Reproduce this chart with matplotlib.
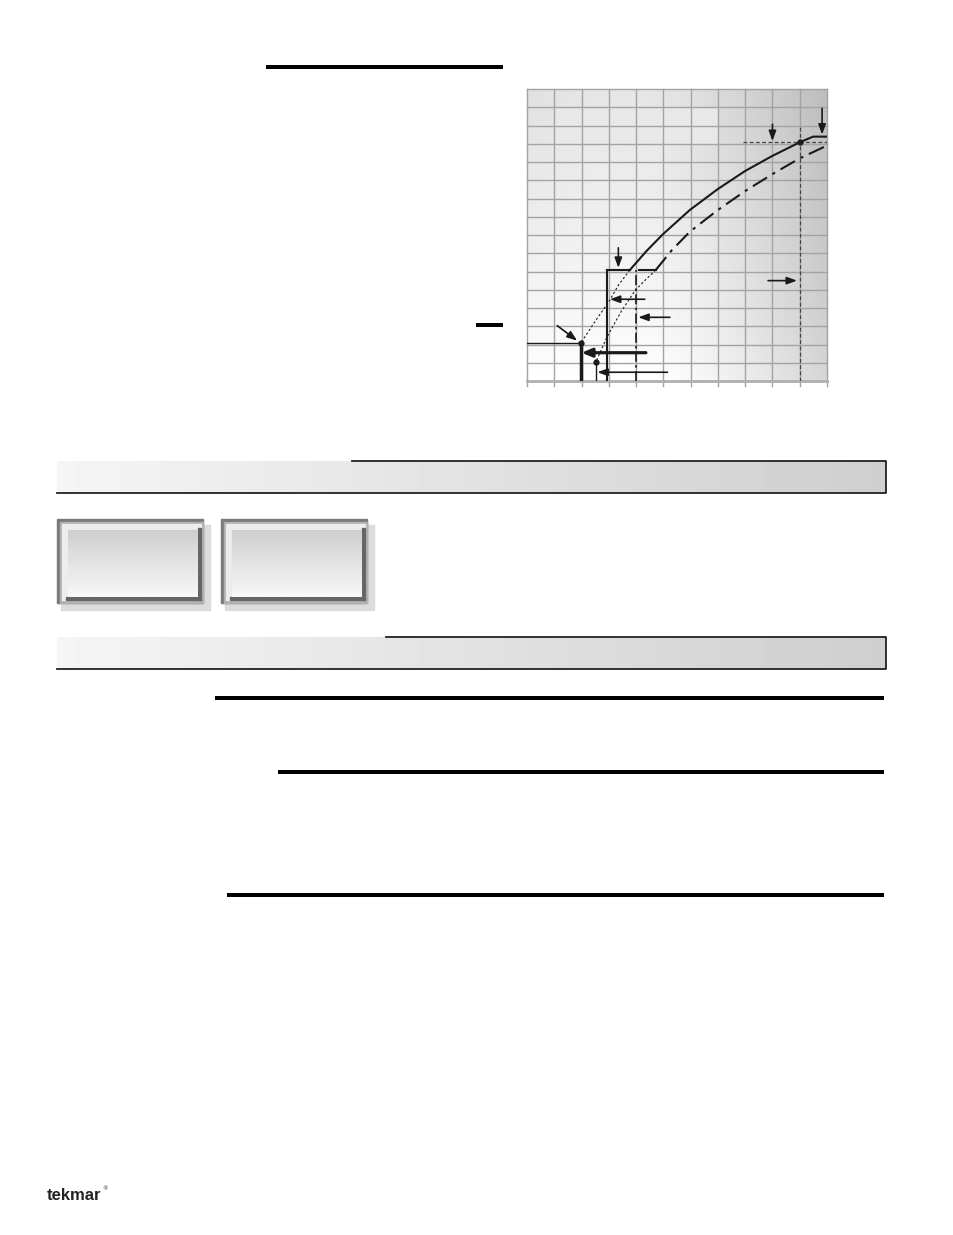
import numpy as np
import matplotlib
matplotlib.use('Agg')
import matplotlib.pyplot as plt
from matplotlib.patches import Rectangle

# Curve data (grid units: x 0..11, y 0..16)
solid_x = [3.77, 4.38, 4.99, 5.97, 6.98, 7.99, 8.99, 10.0, 10.49, 11.0]
solid_y = [6.08, 7.12, 8.05, 9.37, 10.5, 11.5, 12.33, 13.08, 13.39, 13.39]
solid_low_x = [3.77, 3.35, 3.04, 2.49, 1.97]
solid_low_y = [6.08, 5.25, 4.44, 3.25, 2.07]
dashdot_x = [4.72, 5.3, 5.97, 6.98, 7.99, 8.99, 10.0, 11.0]
dashdot_y = [6.08, 7.15, 8.18, 9.35, 10.4, 11.33, 12.2, 12.9]
dashdot_low_x = [4.72, 4.35, 3.98, 3.45, 2.94, 2.53]
dashdot_low_y = [6.08, 5.55, 4.99, 3.8, 2.43, 1.06]

# arrows: (x_start, y_start, x_end, y_end)
arrows = [
    (3.35, 7.3, 3.35, 6.2),
    (4.32, 4.48, 3.04, 4.48),
    (5.24, 3.49, 4.08, 3.49),
    (5.15, 0.48, 2.58, 0.48),
    (1.11, 3.03, 1.84, 2.21),
    (8.84, 5.5, 9.9, 5.5),
    (9.0, 14.07, 9.0, 13.15),
    (10.82, 14.94, 10.82, 13.5),
]

fig = plt.figure(figsize=(9.54, 12.35), dpi=100)

# page layer in pixel coordinates
page = fig.add_axes([0, 0, 1, 1])
page.set_xlim(0, 954)
page.set_ylim(1235, 0)
page.axis('off')

def hbar(x0, x1, y, lw=4):
    page.plot([x0, x1], [y, y], color='black', lw=lw * 0.72, solid_capstyle='butt')

hbar(266, 503, 67)
hbar(476, 503, 325)
hbar(215, 884, 698)
hbar(278, 884, 772)
hbar(227, 884, 895)

# header bars with grey gradient
grad = np.linspace(0.96, 0.81, 256).reshape(1, -1)
for y0, y1, xtop in [(461, 493, 352), (637, 669, 386)]:
    page.imshow(grad, cmap='gray', vmin=0, vmax=1, aspect='auto',
                extent=(57, 886, y1, y0), zorder=1)
    page.plot([xtop, 886, 886, 57], [y0, y0, y1, y1], color='#222222', lw=1.3, zorder=2)

# two raised buttons
vgrad = np.linspace(0.81, 0.97, 64).reshape(-1, 1)
for dx in [0, 164]:
    page.add_patch(Rectangle((61 + dx, 525), 149, 85, color='#dcdcdc', zorder=1))
    page.add_patch(Rectangle((57 + dx, 519), 146, 84, color='#7a7a7a', zorder=2))
    page.add_patch(Rectangle((60 + dx, 522), 143, 81, color='#b0b0b0', zorder=2))
    page.add_patch(Rectangle((62 + dx, 524), 139, 76, color='#ededed', zorder=3))
    page.add_patch(Rectangle((198 + dx, 528), 3, 72, color='#666666', zorder=4))
    page.add_patch(Rectangle((66 + dx, 597), 135, 3, color='#666666', zorder=4))
    page.imshow(vgrad, cmap='gray', vmin=0, vmax=1, aspect='auto',
                extent=(68 + dx, 198 + dx, 597, 530), zorder=4)

page.text(47, 1195, 'tekmar', fontsize=12, fontweight='heavy', color='#222222',
          family='Liberation Sans', va='center', ha='left')
page.text(102, 1189, '\u00ae', fontsize=4, color='#222222', va='center')

# chart
W, H = 954, 1235
ax = fig.add_axes([527 / W, (H - 381) / H, 300 / W, 292 / H])
ax.axis('off')

xx, yy = np.meshgrid(np.linspace(0, 11, 220), np.linspace(0, 16, 220))
bg = (1 - 0.10 * (yy / 16) ** 0.8
      - 0.16 * np.clip((xx - 4.5) / 6.5, 0, 1) ** 1.3
      - 0.02 * np.clip((2.5 - xx) / 2.5, 0, 1) * (yy / 16))
ax.imshow(bg, cmap='gray', vmin=0, vmax=1, origin='lower', aspect='auto',
          extent=(0, 11, 0, 16), zorder=0)
ax.set_xlim(0, 11)
ax.set_ylim(0, 16)
ax.add_patch(Rectangle((1.03, 13.0), 5.92, 1.94, color='#e8e8e8', zorder=1))

for gx in range(12):
    ax.plot([gx, gx], [-0.25, 16], color='#a3a3a3', lw=1, zorder=2, clip_on=False)
for gy in range(17):
    ax.plot([0, 11], [gy, gy], color='#a3a3a3', lw=1, zorder=2, clip_on=False)
ax.plot([0, 11], [0, 0], color='#b0b0b0', lw=2, zorder=2, clip_on=False)

ink = '#1a1a1a'
ax.plot(solid_x, solid_y, color=ink, lw=1.5, zorder=5)
ax.plot([2.95, 3.77], [6.08, 6.08], color=ink, lw=1.5, zorder=5)
ax.plot([2.95, 2.95], [0, 6.08], color=ink, lw=1.5, zorder=5)
ax.plot(solid_low_x, solid_low_y, color=ink, lw=0.8, dashes=(2, 2), zorder=5)

ax.plot(dashdot_x, dashdot_y, color=ink, lw=1.5, dashes=(8, 3, 1.5, 3), zorder=5)
ax.plot([4.1, 4.72], [6.08, 6.08], color=ink, lw=1.5, zorder=5)
ax.plot([4.0, 4.0], [0, 6.08], color=ink, lw=1.2, dashes=(6, 2, 1.5, 2), zorder=5)
ax.plot(dashdot_low_x, dashdot_low_y, color=ink, lw=0.8, dashes=(2, 2), zorder=5)

# design point markers and guides
ax.plot([0, 1.97], [2.07, 2.07], color=ink, lw=1.0, zorder=5)
ax.plot([1.97, 1.97], [0, 2.07], color=ink, lw=2.5, zorder=5)
ax.plot([2.53, 2.53], [0, 1.06], color=ink, lw=1.0, zorder=5)
ax.plot([7.92, 11], [13.08, 13.08], color='#444444', lw=0.9, dashes=(3, 2), zorder=5)
ax.plot([10.0, 10.0], [0, 13.94], color='#444444', lw=0.9, dashes=(3, 2), zorder=5)
ax.plot([1.97, 2.53, 10.0], [2.07, 1.06, 13.08], 'o', color=ink, ms=3.5, zorder=6)

for x0, y0, x1, y1 in arrows:
    ax.annotate('', xy=(x1, y1), xytext=(x0, y0),
                arrowprops=dict(arrowstyle='-|>,head_length=0.6,head_width=0.22',
                                color=ink, lw=1.2, shrinkA=0, shrinkB=0), zorder=7)
# thick arrow to the design point
ax.annotate('', xy=(2.0, 1.55), xytext=(4.36, 1.55),
            arrowprops=dict(arrowstyle='-|>,head_length=0.6,head_width=0.25',
                            color=ink, lw=2.3, shrinkA=0, shrinkB=0), zorder=7)

fig.savefig('out.png', dpi=100)
